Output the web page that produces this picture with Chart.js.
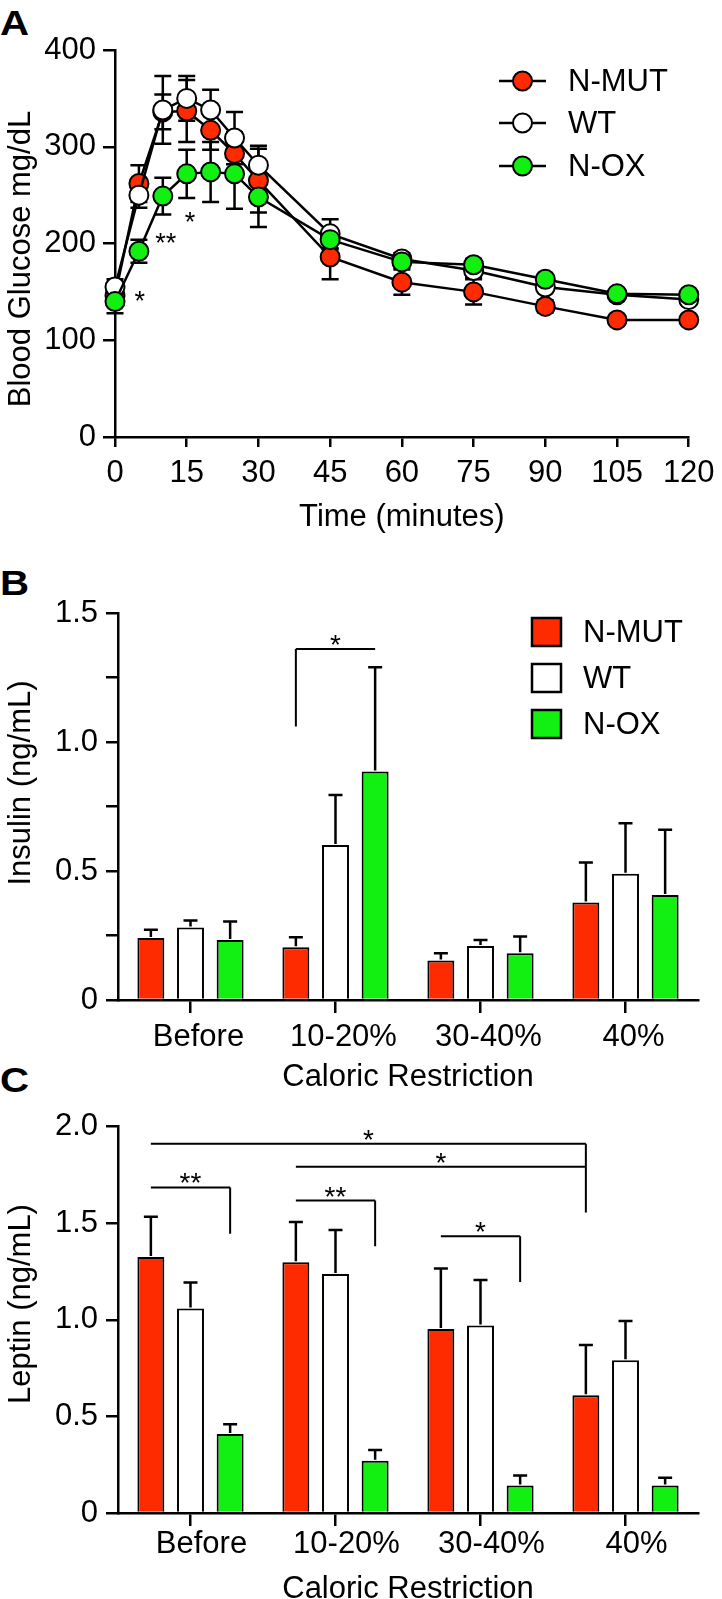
<!DOCTYPE html>
<html>
<head>
<meta charset="utf-8">
<script src="https://cdn.jsdelivr.net/npm/chart.js@4.4.0/dist/chart.umd.min.js"></script>
<style>
html, body { margin:0; padding:0; width:722px; height:1599px; overflow:hidden; background:#fff; }
canvas { position:absolute; left:0; }
.lbl { position:absolute; left:0px; font:bold 35px 'Liberation Sans', Arial, sans-serif; line-height:35px; color:#000; transform:scaleX(1.15); transform-origin:0 0; }
</style>
</head>
<body>
<div class="lbl" style="top:5px">A</div>
<div class="lbl" style="top:565px">B</div>
<div class="lbl" style="top:1062px">C</div>
<canvas id="cA" width="722" height="550" style="top:0px;width:722px;height:550px"></canvas>
<canvas id="cB" width="722" height="550" style="top:550px;width:722px;height:550px"></canvas>
<canvas id="cC" width="722" height="520" style="top:1100px;width:722px;height:520px"></canvas>
<script>
// ---------------- DATA ----------------
const seriesNames = ['N-MUT', 'WT', 'N-OX'];

// Panel A: glucose tolerance
const timeMinutes = [0, 5, 10, 15, 20, 25, 30, 45, 60, 75, 90, 105, 120];
const glucoseNMUT    = [146, 262, 336, 337, 317, 293, 265, 186, 160, 150, 135, 121, 121];
const glucoseNMUTErr = [8, 19, 18, 32, 20, 22, 33, 23, 13, 13, 6, 5, 5];
const glucoseWT      = [155, 250, 338, 350, 338, 309, 281, 210, 184, 172, 155, 147, 142];
const glucoseWTErr   = [8, 13, 35, 23, 21, 27, 20, 15, 6, 7, 5, 4, 5];
const glucoseNOX     = [140, 192, 249, 272, 274, 272, 248, 204, 181, 178, 163, 148, 147];
const glucoseNOXErr  = [12, 12, 19, 25, 31, 36, 31, 10, 6, 6, 5, 4, 4];
const timeTicks    = [0, 15, 30, 45, 60, 75, 90, 105, 120];
const glucoseTicks = [0, 100, 200, 300, 400];
const glucoseStars = [ {x: 5.2, y: 147, text: '*'}, {x: 10.6, y: 207, text: '**'}, {x: 15.7, y: 229, text: '*'} ];

// Panel B: insulin
const restrictionLabels = ['Before', '10-20%', '30-40%', '40%'];
const insulinNMUT    = [0.240, 0.204, 0.153, 0.378];
const insulinNMUTErr = [0.032, 0.039, 0.028, 0.155];
const insulinWT      = [0.281, 0.601, 0.209, 0.489];
const insulinWTErr   = [0.027, 0.194, 0.024, 0.196];
const insulinNOX     = [0.233, 0.886, 0.181, 0.407];
const insulinNOXErr  = [0.071, 0.404, 0.065, 0.253];
const insulinTicks      = [0, 0.25, 0.5, 0.75, 1.0, 1.25, 1.5];
const insulinTickLabels = ['0', '', '0.5', '', '1.0', '', '1.5'];
const insulinBrackets = [ {from: [1, 0], to: [1, 2], y: 1.36, leg: 'left', legTo: 1.06, text: '*'} ];

// Panel C: leptin
const leptinNMUT    = [1.325, 1.298, 0.953, 0.610];
const leptinNMUTErr = [0.209, 0.208, 0.313, 0.260];
const leptinWT      = [1.058, 1.237, 0.971, 0.791];
const leptinWTErr   = [0.135, 0.228, 0.235, 0.203];
const leptinNOX     = [0.409, 0.271, 0.142, 0.142];
const leptinNOXErr  = [0.050, 0.055, 0.052, 0.040];
const leptinTicks      = [0, 0.5, 1.0, 1.5, 2.0];
const leptinTickLabels = ['0', '0.5', '1.0', '1.5', '2.0'];
const leptinBrackets = [
  {from: [0, 0], to: [3, 0], y: 1.911, leg: 'right', legTo: 1.556, text: '*'},
  {from: [1, 0], to: [3, 0], y: 1.792, leg: 'none', text: '*'},
  {from: [0, 0], to: [0, 2], y: 1.685, leg: 'right', legTo: 1.445, text: '**'},
  {from: [1, 0], to: [1, 2], y: 1.617, leg: 'right', legTo: 1.381, text: '**'},
  {from: [2, 0], to: [2, 2], y: 1.432, leg: 'right', legTo: 1.196, text: '*'}
];

// ---------------- STYLE ----------------
const FONT = "'Liberation Sans', Arial, Helvetica, sans-serif";
const TICK_SIZE = 31;
const RED = '#ff2b00', WHITE = '#ffffff', GREEN = '#12f012';
const COLORS = [RED, WHITE, GREEN];
Chart.defaults.font.family = FONT;
Chart.defaults.color = '#000';

function axisBase(tickLen, pad) {
  return {
    border: { display: true, color: '#000', width: 2.5 },
    grid: { drawOnChartArea: false, drawTicks: true, tickLength: tickLen, color: '#000', lineWidth: 2.5, tickWidth: 2.5, tickColor: '#000' },
    ticks: { color: '#000', padding: pad, font: { size: TICK_SIZE, family: FONT }, autoSkip: false, maxRotation: 0 }
  };
}

// ---------------- PLUGINS ----------------
function yTitlePlugin(text, x, y) {
  return {
    id: 'yTitle',
    afterDraw(chart) {
      const ctx = chart.ctx;
      ctx.save();
      ctx.translate(x, y);
      ctx.rotate(-Math.PI / 2);
      ctx.font = '31px ' + FONT;
      ctx.fillStyle = '#000';
      ctx.textAlign = 'center';
      ctx.textBaseline = 'middle';
      ctx.fillText(text, 0, 0);
      ctx.restore();
    }
  };
}

function lineErrorPlugin(errs, cap) {
  return {
    id: 'lineErr',
    beforeDatasetsDraw(chart) {
      const {ctx, scales: {x, y}} = chart;
      ctx.save();
      ctx.strokeStyle = '#000';
      ctx.lineWidth = 2.5;
      chart.data.datasets.forEach((ds, di) => {
        ds.data.forEach((p, i) => {
          const e = errs[di][i];
          const px = x.getPixelForValue(p.x);
          const y1 = y.getPixelForValue(p.y - e), y2 = y.getPixelForValue(p.y + e);
          ctx.beginPath();
          ctx.moveTo(px, y1); ctx.lineTo(px, y2);
          ctx.moveTo(px - cap, y1); ctx.lineTo(px + cap, y1);
          ctx.moveTo(px - cap, y2); ctx.lineTo(px + cap, y2);
          ctx.stroke();
        });
      });
      ctx.restore();
    }
  };
}

function starsPlugin(stars, size) {
  return {
    id: 'stars',
    afterDatasetsDraw(chart) {
      const {ctx, scales: {x, y}} = chart;
      ctx.save();
      ctx.font = size + 'px ' + FONT;
      ctx.fillStyle = '#000';
      ctx.textAlign = 'center';
      ctx.textBaseline = 'alphabetic';
      stars.forEach(s => {
        ctx.fillText(s.text, x.getPixelForValue(s.x), y.getPixelForValue(s.y) + 0.57 * size);
      });
      ctx.restore();
    }
  };
}

function barErrorPlugin(errs, cap) {
  return {
    id: 'barErr',
    afterDatasetsDraw(chart) {
      const {ctx, scales: {y}} = chart;
      ctx.save();
      ctx.strokeStyle = '#000';
      ctx.lineWidth = 2.5;
      chart.data.datasets.forEach((ds, di) => {
        const meta = chart.getDatasetMeta(di);
        meta.data.forEach((bar, j) => {
          const v = ds.data[j];
          const top = y.getPixelForValue(v) - 1;
          const ye = y.getPixelForValue(v + errs[di][j]);
          ctx.beginPath();
          ctx.moveTo(bar.x, top); ctx.lineTo(bar.x, ye);
          ctx.moveTo(bar.x - cap, ye); ctx.lineTo(bar.x + cap, ye);
          ctx.stroke();
        });
      });
      ctx.restore();
    }
  };
}

function bracketPlugin(list, size) {
  return {
    id: 'brackets',
    afterDatasetsDraw(chart) {
      const {ctx, scales: {y}} = chart;
      ctx.save();
      ctx.strokeStyle = '#000';
      ctx.fillStyle = '#000';
      ctx.lineWidth = 2;
      ctx.font = size + 'px ' + FONT;
      ctx.textAlign = 'center';
      ctx.textBaseline = 'alphabetic';
      list.forEach(b => {
        const x1 = chart.getDatasetMeta(b.from[1]).data[b.from[0]].x;
        const x2 = chart.getDatasetMeta(b.to[1]).data[b.to[0]].x;
        const yy = y.getPixelForValue(b.y);
        ctx.beginPath();
        ctx.moveTo(x1, yy); ctx.lineTo(x2, yy);
        if (b.leg === 'right') { ctx.moveTo(x2, yy); ctx.lineTo(x2, y.getPixelForValue(b.legTo)); }
        if (b.leg === 'left') { ctx.moveTo(x1, yy); ctx.lineTo(x1, y.getPixelForValue(b.legTo)); }
        ctx.stroke();
        ctx.fillText(b.text, (x1 + x2) / 2, yy - 11 + 0.57 * size);
      });
      ctx.restore();
    }
  };
}

function lineLegendPlugin(x0, x1, xText, rows) {
  return {
    id: 'lineLegend',
    afterDraw(chart) {
      const ctx = chart.ctx;
      ctx.save();
      ctx.font = '31px ' + FONT;
      ctx.textAlign = 'left';
      ctx.textBaseline = 'middle';
      chart.data.datasets.forEach((ds, i) => {
        const yy = rows[i];
        ctx.strokeStyle = '#000';
        ctx.lineWidth = 2.5;
        ctx.beginPath(); ctx.moveTo(x0, yy); ctx.lineTo(x1, yy); ctx.stroke();
        ctx.beginPath();
        ctx.arc((x0 + x1) / 2, yy, 9.5, 0, Math.PI * 2);
        ctx.fillStyle = ds.pointBackgroundColor;
        ctx.fill();
        ctx.lineWidth = 2;
        ctx.stroke();
        ctx.fillStyle = '#000';
        ctx.fillText(ds.label, xText, yy + 1);
      });
      ctx.restore();
    }
  };
}

function boxLegendPlugin(x0, w, h, xText, rows) {
  return {
    id: 'boxLegend',
    afterDraw(chart) {
      const ctx = chart.ctx;
      ctx.save();
      ctx.font = '31px ' + FONT;
      ctx.textAlign = 'left';
      ctx.textBaseline = 'middle';
      chart.data.datasets.forEach((ds, i) => {
        const yy = rows[i];
        ctx.fillStyle = ds.backgroundColor;
        ctx.fillRect(x0, yy - h / 2, w, h);
        ctx.strokeStyle = '#000';
        ctx.lineWidth = 2.5;
        ctx.strokeRect(x0, yy - h / 2, w, h);
        ctx.fillStyle = '#000';
        ctx.fillText(ds.label, xText, yy + 1);
      });
      ctx.restore();
    }
  };
}

// ---------------- PANEL A ----------------
function lineDataset(label, values, color, order) {
  return {
    label: label,
    data: timeMinutes.map((t, i) => ({x: t, y: values[i]})),
    borderColor: '#000',
    borderWidth: 2.5,
    pointRadius: 9.5,
    pointHoverRadius: 9.5,
    pointBorderWidth: 2,
    pointBackgroundColor: color,
    pointBorderColor: '#000',
    tension: 0,
    clip: false,
    order: order
  };
}

const axA_x = axisBase(10, 7.4);
axA_x.type = 'linear';
axA_x.min = 0; axA_x.max = 120;
axA_x.afterBuildTicks = s => { s.ticks = timeTicks.map(v => ({value: v})); };
axA_x.afterFit = s => { s.height = 113; };
axA_x.title = { display: true, text: 'Time (minutes)', color: '#000', font: { size: 31, family: FONT }, padding: { top: 0, bottom: 14.4 } };

const axA_y = axisBase(12, 7);
axA_y.min = 0; axA_y.max = 400;
axA_y.afterBuildTicks = s => { s.ticks = glucoseTicks.map(v => ({value: v})); };
axA_y.afterFit = s => { s.width = 115; };

new Chart(document.getElementById('cA'), {
  type: 'line',
  data: {
    datasets: [
      lineDataset(seriesNames[0], glucoseNMUT, RED, 3),
      lineDataset(seriesNames[1], glucoseWT, WHITE, 2),
      lineDataset(seriesNames[2], glucoseNOX, GREEN, 1)
    ]
  },
  options: {
    responsive: false,
    animation: false,
    devicePixelRatio: 1,
    layout: { padding: { top: 50, right: 28, bottom: 0, left: 0 } },
    plugins: { legend: { display: false }, tooltip: { enabled: false } },
    scales: { x: axA_x, y: axA_y }
  },
  plugins: [
    lineErrorPlugin([glucoseNMUTErr, glucoseWTErr, glucoseNOXErr], 8.5),
    starsPlugin(glucoseStars, 27),
    lineLegendPlugin(499, 546, 568, [81, 123, 166]),
    yTitlePlugin('Blood Glucose mg/dL', 21.5, 259)
  ]
});

// ---------------- BAR PANELS ----------------
function barDatasets(a, b, c) {
  return [a, b, c].map((vals, i) => ({
    label: seriesNames[i],
    data: vals,
    backgroundColor: COLORS[i],
    borderColor: '#000',
    borderWidth: 2,
    barPercentage: 0.68,
    categoryPercentage: 0.82
  }));
}

function barChart(id, opts) {
  const ax_x = axisBase(13, opts.xPad);
  ax_x.type = 'category';
  ax_x.offset = true;
  ax_x.grid.offset = false;
  ax_x.ticks.labelOffset = opts.labelOffset;
  ax_x.afterFit = s => { s.height = opts.xHeight; };
  ax_x.title = { display: true, text: 'Caloric Restriction', color: '#000', font: { size: 31, family: FONT }, padding: { top: 0, bottom: opts.titlePad } };

  const ax_y = axisBase(12, 8);
  ax_y.min = 0; ax_y.max = opts.max;
  ax_y.afterBuildTicks = s => { s.ticks = opts.ticks.map(v => ({value: v})); };
  ax_y.ticks.callback = (v, i) => opts.tickLabels[i];
  ax_y.afterFit = s => { s.width = 118; };

  return new Chart(document.getElementById(id), {
    type: 'bar',
    data: { labels: restrictionLabels, datasets: opts.datasets },
    options: {
      responsive: false,
      animation: false,
      devicePixelRatio: 1,
      layout: { padding: { top: opts.top, right: 24, bottom: 0, left: 0 } },
      plugins: { legend: { display: false }, tooltip: { enabled: false } },
      scales: { x: ax_x, y: ax_y }
    },
    plugins: opts.plugins
  });
}

barChart('cB', {
  datasets: barDatasets(insulinNMUT, insulinWT, insulinNOX),
  max: 1.5, ticks: insulinTicks, tickLabels: insulinTickLabels,
  top: 63, xHeight: 100, xPad: 5.4, titlePad: 4.4, labelOffset: 8,
  plugins: [
    barErrorPlugin([insulinNMUTErr, insulinWTErr, insulinNOXErr], 7),
    bracketPlugin(insulinBrackets, 28),
    boxLegendPlugin(532, 29, 28, 583, [82, 128, 174]),
    yTitlePlugin('Insulin (ng/mL)', 21.5, 233)
  ]
});

barChart('cC', {
  datasets: barDatasets(leptinNMUT, leptinWT, leptinNOX),
  max: 2.0, ticks: leptinTicks, tickLabels: leptinTickLabels,
  top: 25, xHeight: 107, xPad: 0, titlePad: 12.4, labelOffset: 11,
  plugins: [
    barErrorPlugin([leptinNMUTErr, leptinWTErr, leptinNOXErr], 7),
    bracketPlugin(leptinBrackets, 28),
    yTitlePlugin('Leptin (ng/mL)', 21.5, 204)
  ]
});
</script>
</body>
</html>
